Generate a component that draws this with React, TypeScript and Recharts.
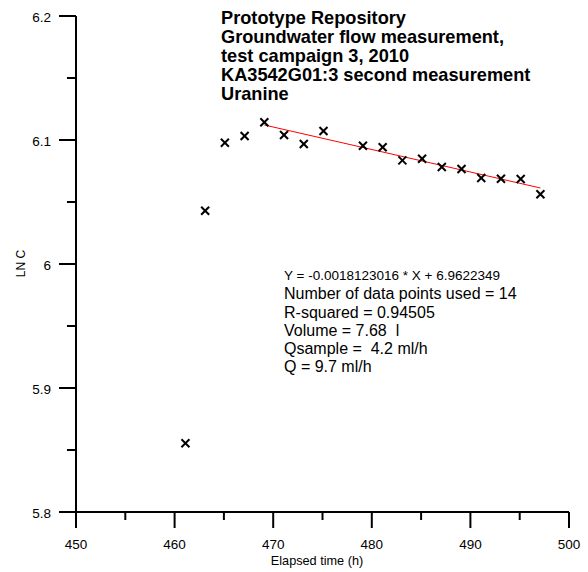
import React from 'react';
import { ScatterChart, Scatter, XAxis, YAxis } from 'recharts';

const timeH = [461.1, 463.1, 465.1, 467.1, 469.1, 471.1, 473.1, 475.1, 479.1, 481.1, 483.1, 485.1, 487.1, 489.1, 491.1, 493.1, 495.1, 497.1];
const lnC = [5.8554, 6.043, 6.0978, 6.1032, 6.1143, 6.104, 6.0968, 6.1073, 6.0954, 6.0941, 6.0836, 6.0849, 6.0782, 6.0766, 6.0694, 6.0688, 6.0685, 6.0562];
const fitX = [469.1, 497.1];
const fitY = [6.1121, 6.0613];
const xTicks = [450, 455, 460, 465, 470, 475, 480, 485, 490, 495, 500];
const yTicks = [5.8, 5.85, 5.9, 5.95, 6.0, 6.05, 6.1, 6.15, 6.2];
const titleLines = [
  'Prototype Repository',
  'Groundwater flow measurement,',
  'test campaign 3, 2010',
  'KA3542G01:3 second measurement',
  'Uranine',
];
const fitEquation = 'Y = -0.0018123016 * X + 6.9622349';
const infoLines = [
  'Number of data points used = 14',
  'R-squared = 0.94505',
  'Volume = 7.68  l',
  'Qsample =  4.2 ml/h',
  'Q = 9.7 ml/h',
];

const points = timeH.map((t, i) => ({ x: t, y: lnC[i] }));
const fitData = fitX.map((t, i) => ({ x: t, y: fitY[i] }));

const FONT = '"Liberation Sans", Arial, sans-serif';

const isMajorX = (v: number) => Math.abs(v / 10 - Math.round(v / 10)) < 1e-6;
const isMajorY = (v: number) => Math.abs(v * 10 - Math.round(v * 10)) < 1e-6;

const XTick = (props: any) => {
  const { x, y, payload } = props;
  const v = payload.value;
  const major = isMajorX(v);
  return (
    <g>
      <line x1={x} x2={x} y1={y} y2={y + (major ? 16 : 8)} stroke="#000" strokeWidth={2} />
      {major && (
        <text x={x} y={y + 37} textAnchor="middle" fontSize={13.5} fontFamily={FONT} fill="#000">
          {String(v)}
        </text>
      )}
    </g>
  );
};

const YTick = (props: any) => {
  const { x, y, payload } = props;
  const v = payload.value;
  const major = isMajorY(v);
  const label = Math.abs(v - 6) < 1e-6 ? '6' : v.toFixed(1);
  return (
    <g>
      <line x1={x - (major ? 17 : 9)} x2={x} y1={y} y2={y} stroke="#000" strokeWidth={2} />
      {major && (
        <text x={x - 25} y={y + 5.5} textAnchor="end" fontSize={13.5} fontFamily={FONT} fill="#000">
          {label}
        </text>
      )}
    </g>
  );
};

const Cross = (props: any) => {
  const { cx, cy } = props;
  if (cx == null || cy == null) return null;
  const s = 4;
  return (
    <g>
      <line x1={cx - s} y1={cy - s} x2={cx + s} y2={cy + s} stroke="#000" strokeWidth={2} />
      <line x1={cx - s} y1={cy + s} x2={cx + s} y2={cy - s} stroke="#000" strokeWidth={2} />
    </g>
  );
};

const NoShape = () => null;

export default function App() {
  return (
    <div style={{ position: 'absolute', left: 0, top: 0, width: 588, height: 572, background: '#fff' }}>
      <ScatterChart width={588} height={572} margin={{ top: 16, right: 19, bottom: 0, left: 16 }}>
        <XAxis
          type="number"
          dataKey="x"
          domain={[450, 500]}
          ticks={xTicks}
          interval={0}
          height={60}
          tickSize={0}
          tickMargin={0}
          tickLine={false}
          tick={<XTick />}
          axisLine={{ stroke: '#000', strokeWidth: 2 }}
          allowDataOverflow
        />
        <YAxis
          type="number"
          dataKey="y"
          domain={[5.8, 6.2]}
          ticks={yTicks}
          interval={0}
          width={60}
          tickSize={0}
          tickMargin={0}
          tickLine={false}
          tick={<YTick />}
          axisLine={{ stroke: '#000', strokeWidth: 2 }}
          allowDataOverflow
        />
        <Scatter
          data={fitData}
          line={{ stroke: '#ff0000', strokeWidth: 1 }}
          shape={<NoShape />}
          isAnimationActive={false}
        />
        <Scatter data={points} shape={<Cross />} isAnimationActive={false} />
      </ScatterChart>
      <svg
        width={588}
        height={572}
        style={{ position: 'absolute', left: 0, top: 0, pointerEvents: 'none' }}
      >
        {titleLines.map((t, i) => (
          <text key={i} x={221} y={23.5 + i * 19} fontSize={18.2} fontWeight="bold" fontFamily={FONT} fill="#000">
            {t}
          </text>
        ))}
        <text x={284} y={280} fontSize={13.5} fontFamily={FONT} fill="#000">
          {fitEquation}
        </text>
        {infoLines.map((t, i) => (
          <text
            key={i}
            x={284}
            y={299.3 + i * 18.25}
            fontSize={16}
            fontFamily={FONT}
            fill="#000"
            style={{ whiteSpace: 'pre' }}
          >
            {t}
          </text>
        ))}
        <text x={317} y={565} textAnchor="middle" fontSize={12.7} fontFamily={FONT} fill="#000">
          Elapsed time (h)
        </text>
        <text
          x={0}
          y={0}
          transform="translate(24.5,263.5) rotate(-90)"
          textAnchor="middle"
          fontSize={12}
          fontFamily={FONT}
          fill="#000"
        >
          LN C
        </text>
      </svg>
    </div>
  );
}
